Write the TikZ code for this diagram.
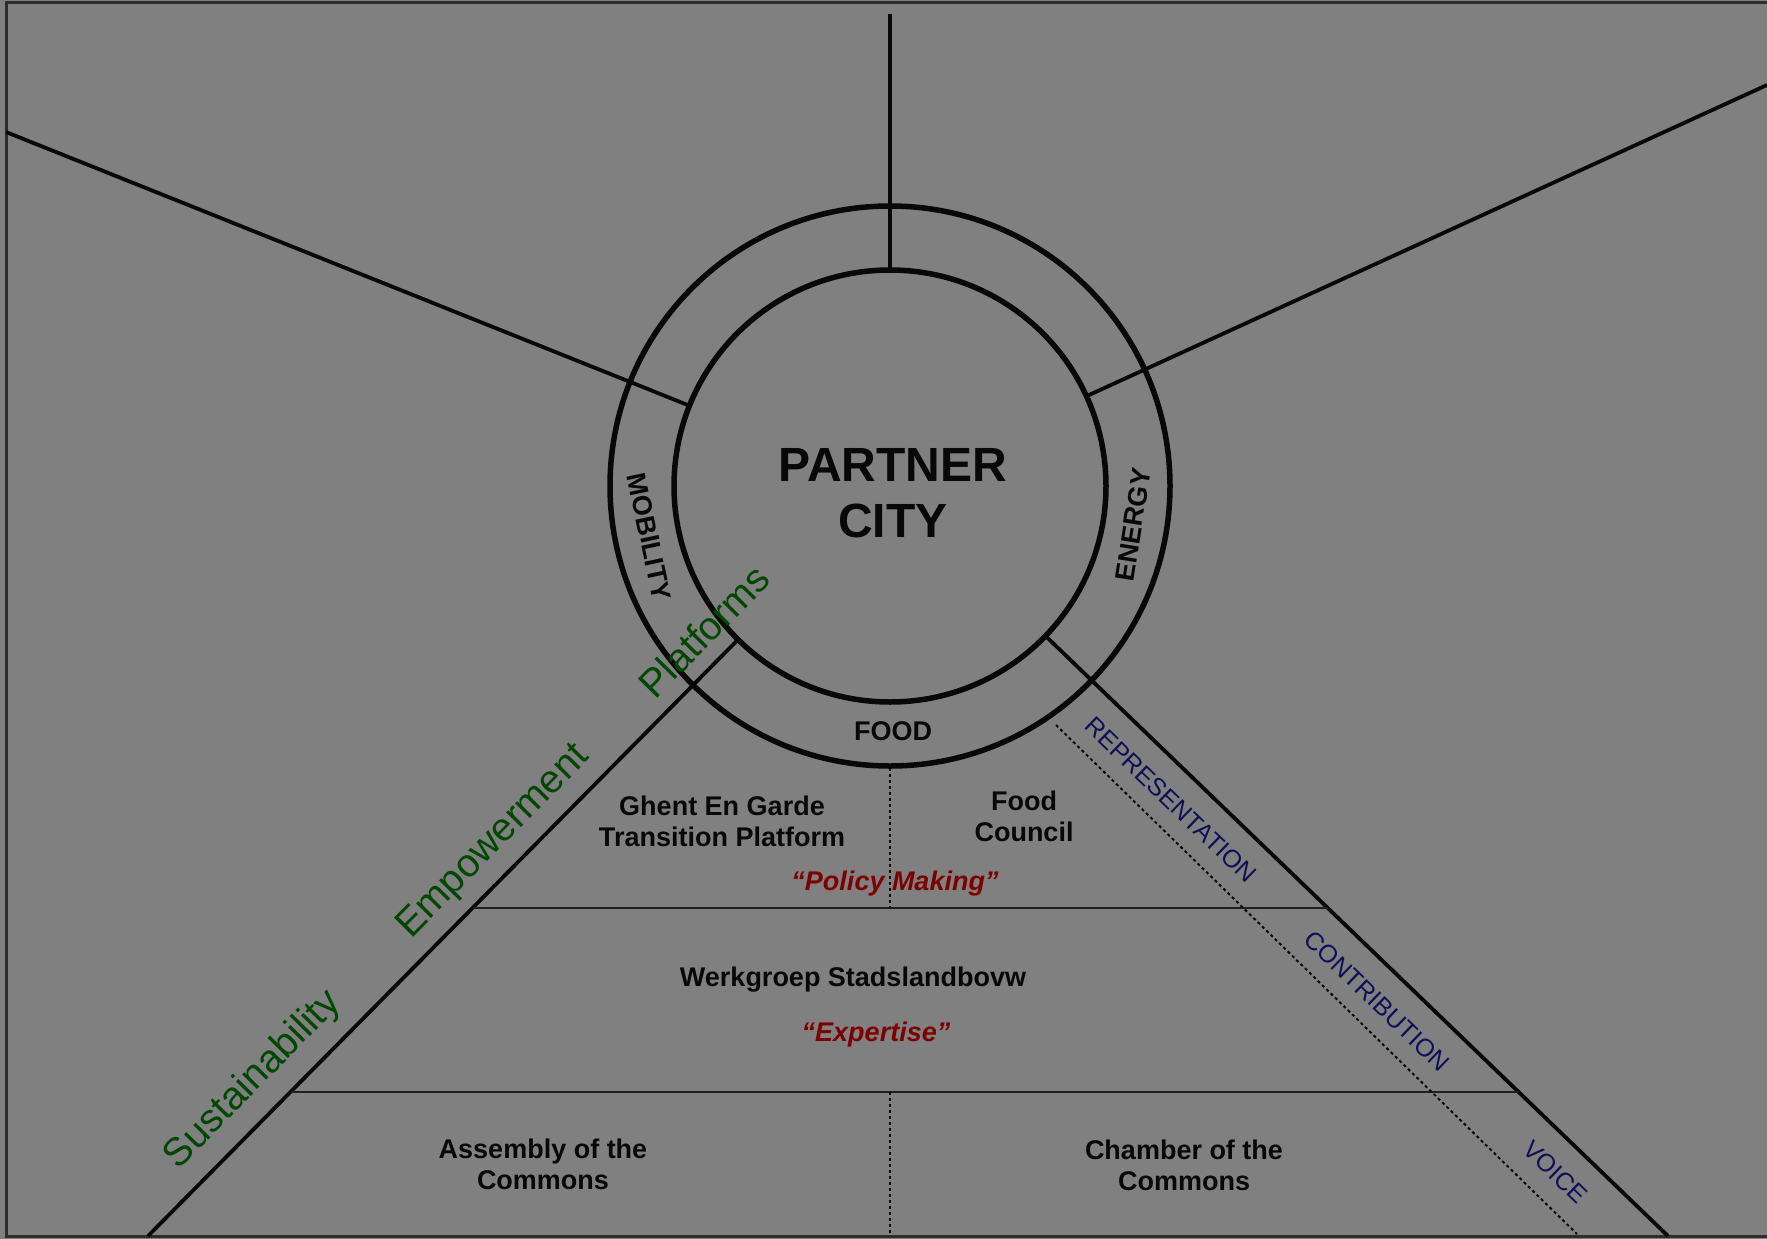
\documentclass[tikz,border=0pt]{standalone}
\usepackage{fontspec}
\setmainfont{Liberation Sans}
\definecolor{bg}{RGB}{128,128,128}
\definecolor{frm}{RGB}{45,45,45}
\definecolor{dgreen}{RGB}{0,72,0}
\definecolor{dred}{RGB}{125,0,0}
\definecolor{dblue}{RGB}{15,15,88}
\definecolor{ink}{RGB}{8,8,8}
\begin{document}
\begin{tikzpicture}[x=1pt,y=-1pt,
  ring/.style={circle,draw=ink,line width=5.5pt,inner sep=0pt,outer sep=0pt},
  spoke/.style={draw=ink,line width=3.8pt},
  band/.style={draw=ink!80!bg,line width=2pt},
  dotline/.style={draw=ink,line width=2pt,dash pattern=on 3pt off 3pt},
  frame/.style={draw=frm,line width=3pt},
  ringlbl/.style={text=ink,font=\bfseries\fontsize{27}{30}\selectfont,inner sep=0pt},
  lbl/.style={text=ink,font=\bfseries\fontsize{27}{31}\selectfont,align=center,inner sep=0pt},
  quotelbl/.style={text=dred,font=\bfseries\itshape\fontsize{27}{31}\selectfont,inner sep=0pt},
  grnlbl/.style={text=dgreen,font=\fontsize{39.5}{44}\selectfont,inner sep=0pt,rotate=45.4},
  blulbl/.style={text=dblue,font=\fontsize{25}{28}\selectfont,inner sep=0pt,rotate=-44}]

% background and bounding box
\fill[bg] (0,0) rectangle (1767,1239);
\useasboundingbox (0,0) rectangle (1767,1239);
\draw[frame] (1767,3) -- (6,3) -- (6,1236) -- (1767,1236);

% circles
\node[ring,minimum size=560pt] (outer) at (890,486) {};
\node[ring,minimum size=432pt] (inner) at (890,486) {};

% spoke end points
\coordinate (topE) at (890,14);
\coordinate (leftE) at (6,132);
\coordinate (rightE) at (1767,85);
\coordinate (blE) at (148,1236);
\coordinate (brE) at (1668,1236);

\draw[spoke] (inner) -- (topE);
\draw[spoke] (inner) -- (leftE);
\draw[spoke] (inner) -- (rightE);
\draw[spoke] (inner) -- (blE);
\draw[spoke] (inner) -- (brE);

% bands
\coordinate (h1L) at (472.5,908);
\coordinate (h1R) at (1327.8,908);
\coordinate (h2L) at (290.5,1092);
\coordinate (h2R) at (1518.6,1092);
\draw[band] (h1L) -- (h1R);
\draw[band] (h2L) -- (h2R);

% dotted dividers
\coordinate (v1T) at (890,768);
\coordinate (v1B) at (890,908);
\coordinate (v2T) at (890,1092);
\coordinate (v2B) at (890,1236);
\draw[dotline] (v1T) -- (v1B);
\draw[dotline] (v2T) -- (v2B);
\coordinate (dT) at (1056,725);
\coordinate (dB) at (1577,1234);
\draw[dotline] (dT) -- (dB);

% centre text
\node[text=ink,font=\bfseries\fontsize{48}{56}\selectfont,align=center,inner sep=0pt] (city) at (893,493) {PARTNER\\CITY};

% ring labels
\node[ringlbl,rotate=-78] (mob) at (649.4,537) {MOBILITY};
\node[ringlbl,rotate=81] (ene) at (1133,524.5) {ENERGY};
\node[ringlbl] (food) at (893,731) {FOOD};

% green labels
\node[grnlbl] (plat) at (704,631) {Platforms};
\node[grnlbl] (emp) at (494,842) {Empowerment};
\node[grnlbl] (sus) at (253,1080) {Sustainability};

% blue labels
\node[blulbl] (rep) at (1171,800) {REPRESENTATION};
\node[blulbl] (con) at (1377,1001) {CONTRIBUTION};
\node[blulbl] (voi) at (1555,1172) {VOICE};

% cell labels
\node[lbl] (ghent) at (722,821) {Ghent En Garde\\Transition Platform};
\node[lbl] (fc) at (1024,816) {Food\\Council};
\node[quotelbl] (pm) at (895,884) {“Policy Making"};
\node[lbl] (wg) at (853,980) {Werkgroep Stadslandbovw};
\node[quotelbl] (exp) at (876,1035) {“Expertise"};
\node[lbl] (ass) at (543,1164) {Assembly of the\\Commons};
\node[lbl] (cha) at (1184,1165) {Chamber of the\\Commons};

\end{tikzpicture}
\end{document}
